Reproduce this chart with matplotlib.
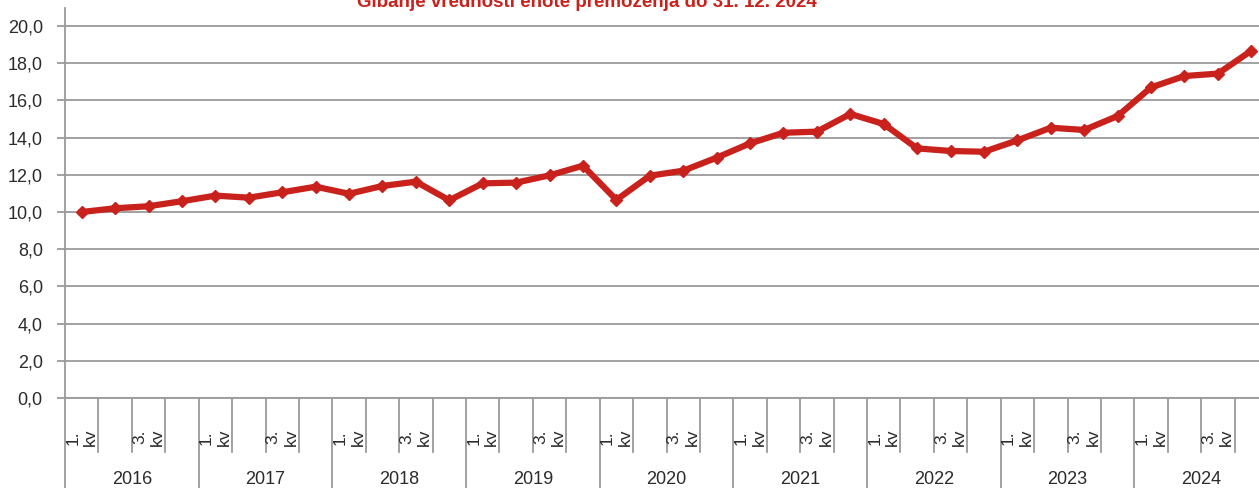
import matplotlib
matplotlib.use("Agg")
import matplotlib.pyplot as plt
import matplotlib.transforms as mtransforms

plt.rcParams['font.family'] = ['Liberation Sans', 'DejaVu Sans']

title = "Gibanje vrednosti enote premoženja do 31. 12. 2024"
years = ["2016", "2017", "2018", "2019", "2020", "2021", "2022", "2023", "2024"]
quarter_labels = ["1.\nkv", "", "3.\nkv", ""]
values = [10.00, 10.20, 10.31, 10.58, 10.88, 10.77, 11.06, 11.36,
          10.98, 11.40, 11.63, 10.63, 11.54, 11.58, 11.97, 12.49,
          10.65, 11.95, 12.22, 12.92, 13.69, 14.26, 14.32, 15.27,
          14.73, 13.42, 13.28, 13.24, 13.85, 14.53, 14.41, 15.16,
          16.70, 17.31, 17.44, 18.67]
y_ticks = [0, 2, 4, 6, 8, 10, 12, 14, 16, 18, 20]

W, H = 1259, 488
fig = plt.figure(figsize=(W / 100, H / 100), dpi=100)
# axes: left 65px, right 1268px (beyond edge), bottom y=398px, top y=8px
ax = fig.add_axes([65 / W, (H - 398) / H, (1268 - 65) / W, 390 / H])

red = "#C9221D"
grid_c = "#9a9a9a"
text_c = "#2b2b2b"

x = list(range(len(values)))
ax.plot(x, values, color=red, lw=4.5, marker="D", ms=6, mec=red, mfc=red,
        solid_joinstyle="round", zorder=5, clip_on=False)

ax.set_xlim(-0.5, len(values) - 0.5)
ax.set_ylim(0, 390 / 18.6)
ax.set_yticks(y_ticks)
ax.set_yticklabels([f"{v:.1f}".replace(".", ",") for v in y_ticks],
                   fontsize=13, color=text_c)
ax.yaxis.grid(True, color=grid_c, lw=1.3)
ax.set_axisbelow(True)
ax.tick_params(axis="y", length=6, width=1.3, color=grid_c, pad=10)
ax.set_xticks([])
for s in ["top", "right"]:
    ax.spines[s].set_visible(False)
ax.spines["left"].set_color(grid_c)
ax.spines["left"].set_linewidth(1.3)
ax.spines["bottom"].set_color(grid_c)
ax.spines["bottom"].set_linewidth(1.3)

trans = mtransforms.blended_transform_factory(ax.transData, ax.transAxes)
q_bottom = (398 - 452) / 390
y_bottom = (398 - 490) / 390
n = len(values)
for i in range(n + 1):
    b = i - 0.5
    if i % 4 == 0:
        ax.plot([b, b], [0, y_bottom], transform=trans, color=grid_c, lw=1.3, clip_on=False)
    else:
        ax.plot([b, b], [0, q_bottom], transform=trans, color=grid_c, lw=1.3, clip_on=False)

lab_y = (398 - 446) / 390
for i in range(n):
    lab = quarter_labels[i % 4]
    if lab:
        ax.text(i, lab_y, lab, transform=trans, rotation=90, ha="center", va="bottom",
                fontsize=12.5, color=text_c, linespacing=1.25, clip_on=False)

yr_y = (398 - 479) / 390
for k, yr in enumerate(years):
    ax.text(4 * k + 1.5, yr_y, yr, transform=trans, ha="center", va="center",
            fontsize=13, color=text_c, clip_on=False)

fig.text(587 / W, 1 - 7 / H, title, ha="center", va="baseline",
         fontsize=13.5, fontweight="bold", color=red)

fig.savefig("out.png", dpi=100)
